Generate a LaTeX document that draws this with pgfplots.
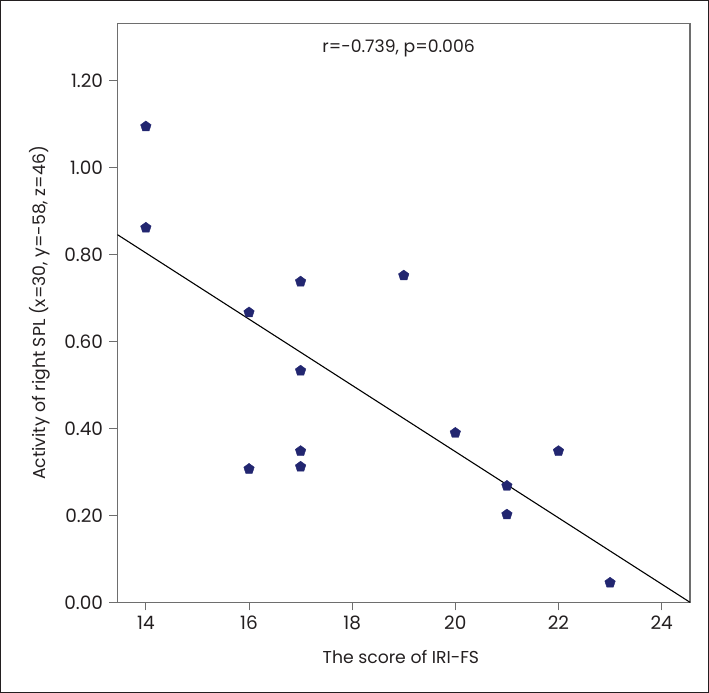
\documentclass[border=0pt]{standalone}
\usepackage{pgfplots}
\pgfplotsset{compat=1.18}
\usepackage{fontspec}
\setmainfont{Poppins}
\definecolor{navy}{RGB}{34,38,112}
\definecolor{txt}{RGB}{35,31,32}
\definecolor{axgray}{RGB}{110,110,110}
\begin{document}
\begin{tikzpicture}
\useasboundingbox (-117.5bp,-90.7bp) rectangle (591.5bp,602.3bp);
\draw[txt, line width=1.3bp] (-116.8bp,-90bp) rectangle (590.8bp,601.6bp);
\begin{axis}[
  at={(0,0)}, anchor=south west,
  width=572.5bp, height=578.8bp, scale only axis,
  xmin=13.45, xmax=24.55, ymin=0, ymax=1.332,
  xtick={14,16,...,24},
  ytick={0,0.2,...,1.2},
  yticklabel style={/pgf/number format/fixed, /pgf/number format/fixed zerofill, /pgf/number format/precision=2, xshift=-3bp},
  /pgf/number format/assume math mode=true,
  tick label style={font=\fontsize{18.5}{20}\selectfont, text=txt},
  xticklabel style={yshift=-2bp},
  label style={font=\fontsize{17.3}{19}\selectfont, text=txt},
  xtick pos=bottom, ytick pos=left,
  tick align=outside,
  major tick length=8bp,
  every tick/.style={axgray, line width=1bp},
  axis line style={axgray, line width=1.1bp},
  xlabel={The score of IRI-FS},
  ylabel={Activity of right SPL (x=30, y=-58, z=46)},
  xlabel style={at={(axis description cs:0.495,-0.0945)}, anchor=center},
  ylabel style={at={(axis description cs:-0.1354,0.5)}, anchor=center, rotate=0},
  clip=false,
]
\addplot[only marks, mark=pentagon*, mark size=5.5bp, color=navy] coordinates {
(14,1.095) (14,0.862) (16,0.667) (16,0.307) (17,0.738) (17,0.533)
(17,0.348) (17,0.312) (19,0.752) (20,0.390) (21,0.268) (21,0.202)
(22,0.348) (23,0.045)
};
\addplot[black, line width=1.1bp] coordinates {(13.45,0.846) (24.55,0.0)};
\node[font=\fontsize{17.3}{19}\selectfont, text=txt] at (axis description cs:0.491,0.9577) {r=-0.739, p=0.006};
\end{axis}
\end{tikzpicture}
\end{document}
